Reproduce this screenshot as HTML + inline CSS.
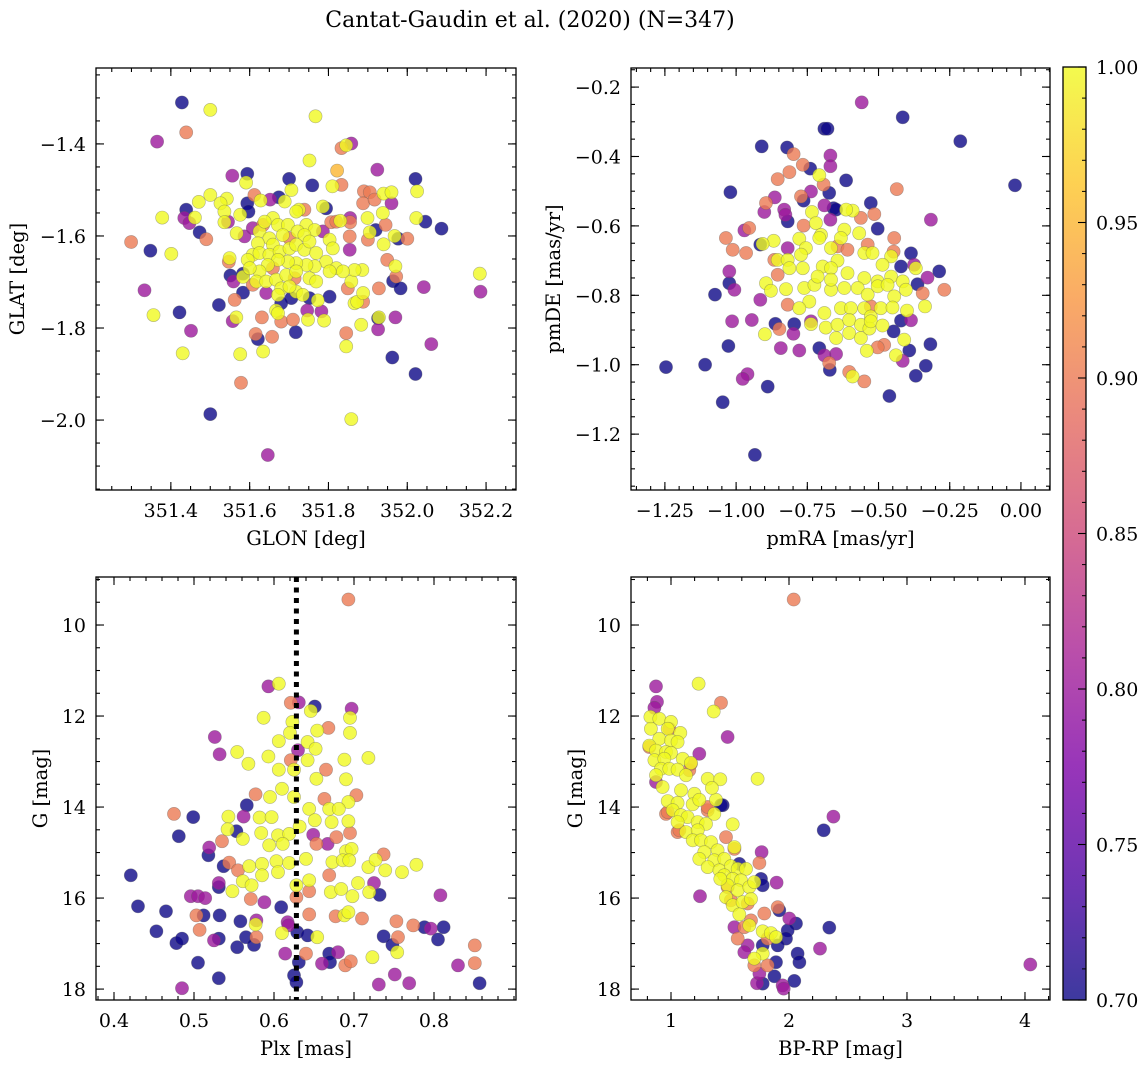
<!DOCTYPE html>
<html><head><meta charset="utf-8">
<style>
html,body{margin:0;padding:0;background:#fff;}
svg{display:block;font-family:"DejaVu Serif","Liberation Serif",serif;}
</style></head>
<body>
<svg id="fig" width="1148" height="1067" viewBox="0 0 1148 1067" xmlns="http://www.w3.org/2000/svg">
<defs>
<linearGradient id="cbgrad" x1="0" y1="1" x2="0" y2="0">
<stop offset="0" stop-color="#0d0887"/><stop offset="0.125" stop-color="#4c02a1"/><stop offset="0.25" stop-color="#7e03a8"/><stop offset="0.375" stop-color="#a92395"/><stop offset="0.5" stop-color="#cc4778"/><stop offset="0.625" stop-color="#e56b5d"/><stop offset="0.75" stop-color="#f89540"/><stop offset="0.875" stop-color="#fdc527"/><stop offset="1" stop-color="#f0f921"/>
</linearGradient>
</defs>
<text x="530" y="27" text-anchor="middle" font-size="22">Cantat-Gaudin et al. (2020) (N=347)</text>
</svg>
<script>
// ---------- data (probability-coloured members) ----------
const glonGlat = [
[351.428,-1.310,.7],[351.500,-1.326,1],[351.767,-1.340,1],[351.439,-1.375,.9],[351.365,-1.395,.8],[351.833,-1.409,.9],[351.845,-1.403,1],[351.858,-1.399,.8],[351.752,-1.436,1],[351.822,-1.458,.95],[351.924,-1.456,.8],[351.556,-1.469,.8],[351.594,-1.465,.7],[351.591,-1.484,1],[351.700,-1.476,.7],[351.759,-1.490,.7],[351.706,-1.500,1],[351.810,-1.492,1],[351.833,-1.489,.9],[352.021,-1.476,.7],[352.025,-1.503,1],[351.940,-1.508,1],[351.960,-1.505,1],[351.890,-1.503,.9],[351.905,-1.505,.9],[351.888,-1.529,.9],[351.917,-1.521,.9],[351.960,-1.529,.8],[351.500,-1.511,1],[351.471,-1.526,1],[351.542,-1.519,1],[351.526,-1.529,1],[351.536,-1.547,1],[351.612,-1.511,.9],[351.628,-1.523,1],[351.652,-1.521,.8],[351.674,-1.516,.7],[351.689,-1.525,1],[351.594,-1.529,.7],[351.597,-1.547,.7],[351.439,-1.543,.7],[351.378,-1.560,1],[351.461,-1.560,1],[351.434,-1.561,.8],[351.447,-1.572,.8],[351.536,-1.570,1],[351.545,-1.569,.8],[351.576,-1.554,1],[351.725,-1.543,1],[351.739,-1.543,.9],[351.786,-1.536,1],[351.794,-1.540,.7],[351.830,-1.567,1],[351.855,-1.561,.8],[351.855,-1.570,.9],[351.807,-1.570,.9],[351.899,-1.561,1],[351.938,-1.550,1],[351.945,-1.576,.9],[352.023,-1.561,1],[352.046,-1.569,.7],[352.087,-1.584,.7],[351.473,-1.592,.7],[351.490,-1.607,.9],[351.299,-1.613,.9],[351.348,-1.632,.7],[351.401,-1.639,1],[351.567,-1.594,1],[351.587,-1.601,.8],[351.854,-1.601,.9],[351.854,-1.630,.8],[351.900,-1.608,.9],[351.905,-1.592,1],[351.920,-1.587,.7],[351.940,-1.618,1],[351.968,-1.600,1],[351.977,-1.606,.7],[352.000,-1.606,.9],[351.549,-1.648,1],[351.547,-1.656,.9],[351.551,-1.686,.7],[351.583,-1.682,.7],[351.583,-1.689,1],[351.559,-1.699,.8],[351.949,-1.652,.9],[351.970,-1.666,1],[351.964,-1.698,.7],[351.972,-1.688,.9],[351.983,-1.714,.7],[352.042,-1.711,.8],[352.184,-1.682,1],[352.186,-1.721,.8],[351.333,-1.718,.8],[351.422,-1.766,.7],[351.356,-1.772,1],[351.522,-1.750,.7],[351.451,-1.806,.8],[351.430,-1.855,1],[351.562,-1.739,.9],[351.566,-1.777,1],[351.557,-1.785,.8],[351.583,-1.723,.7],[351.803,-1.732,.7],[351.773,-1.740,1],[351.746,-1.762,.8],[351.748,-1.782,1],[351.782,-1.764,.8],[351.789,-1.784,1],[351.866,-1.746,1],[351.873,-1.743,1],[351.888,-1.724,1],[351.888,-1.743,.9],[351.883,-1.793,1],[351.928,-1.714,.9],[351.849,-1.714,.9],[351.858,-1.699,1],[351.886,-1.674,1],[351.866,-1.674,1],[351.926,-1.779,.7],[351.928,-1.777,1],[351.926,-1.803,.8],[351.970,-1.777,.8],[351.631,-1.777,.9],[351.680,-1.786,.9],[351.710,-1.782,.9],[351.667,-1.762,1],[351.672,-1.768,1],[351.615,-1.813,.9],[351.621,-1.824,.7],[351.657,-1.819,.9],[351.717,-1.809,.7],[351.634,-1.851,1],[351.576,-1.857,1],[351.845,-1.811,.9],[351.845,-1.840,1],[351.962,-1.864,.7],[352.061,-1.835,.8],[352.021,-1.900,.7],[351.578,-1.919,.9],[351.500,-1.987,.7],[351.858,-1.998,1],[351.646,-2.076,.8],
[351.634,-1.576,.9],[351.608,-1.583,.8],[351.701,-1.605,.9],[351.714,-1.692,.9],[351.608,-1.706,.9],[351.642,-1.724,.8],[351.706,-1.735,.7],[351.680,-1.746,.7],[351.752,-1.735,.7],[351.659,-1.670,.9],[351.786,-1.590,.8],[351.820,-1.569,.9],
[351.659,-1.561,1],[351.672,-1.576,1],[351.697,-1.576,1],[351.718,-1.547,1],[351.744,-1.576,1],[351.765,-1.587,1],[351.722,-1.590,1],[351.739,-1.598,1],[351.625,-1.590,1],[351.650,-1.605,1],[351.659,-1.619,1],[351.621,-1.616,1],[351.608,-1.641,1],[351.595,-1.652,1],[351.625,-1.637,1],[351.650,-1.641,1],[351.676,-1.634,1],[351.701,-1.627,1],[351.718,-1.619,1],[351.739,-1.630,1],[351.769,-1.637,1],[351.803,-1.608,1],[351.811,-1.627,1],[351.794,-1.656,1],[351.820,-1.670,1],[351.837,-1.677,1],[351.765,-1.666,1],[351.744,-1.663,1],[351.718,-1.659,1],[351.697,-1.656,1],[351.672,-1.652,1],[351.646,-1.663,1],[351.625,-1.677,1],[351.617,-1.699,1],[351.642,-1.699,1],[351.667,-1.695,1],[351.693,-1.685,1],[351.718,-1.677,1],[351.752,-1.692,1],[351.769,-1.699,1],[351.680,-1.714,1],[351.672,-1.728,1],[351.718,-1.721,1],[351.735,-1.728,1],[351.701,-1.710,1],[351.803,-1.677,1],[351.638,-1.569,1],[351.684,-1.598,1],[351.752,-1.612,1],[351.600,-1.670,1]
];
const pmraPmde = [
[-0.559,-0.244,.8],[-0.415,-0.287,.7],[-0.690,-0.320,.7],[-0.679,-0.320,.7],[-0.213,-0.356,.7],[-0.910,-0.371,.7],[-0.821,-0.374,.7],[-0.798,-0.393,.9],[-0.669,-0.397,.8],[-0.669,-0.428,.8],[-0.766,-0.424,.9],[-0.740,-0.435,.7],[-0.813,-0.445,.9],[-0.854,-0.465,.9],[-0.708,-0.454,1],[-0.693,-0.481,.9],[-0.614,-0.469,.7],[-0.673,-0.505,.7],[-0.021,-0.483,.7],[-1.020,-0.503,.7],[-0.436,-0.494,.9],[-0.864,-0.518,.8],[-0.737,-0.501,.8],[-0.772,-0.515,.9],[-0.763,-0.527,.7],[-0.895,-0.534,.9],[-0.901,-0.560,.8],[-0.831,-0.553,.8],[-0.827,-0.568,.8],[-0.819,-0.587,.7],[-0.690,-0.541,.8],[-0.658,-0.549,.7],[-0.669,-0.582,.8],[-0.649,-0.553,.7],[-0.527,-0.534,.7],[-0.515,-0.566,.9],[-0.591,-0.556,1],[-0.562,-0.577,.9],[-0.503,-0.608,.7],[-0.316,-0.582,.8],[-0.763,-0.599,.9],[-0.954,-0.606,.9],[-0.971,-0.613,.8],[-1.036,-0.635,.9],[-1.012,-0.669,.9],[-0.965,-0.678,.9],[-0.915,-0.654,.7],[-0.866,-0.698,.9],[-0.819,-0.664,.8],[-0.445,-0.635,.9],[-0.386,-0.679,.7],[-0.447,-0.674,.9],[-0.421,-0.717,.7],[-0.375,-0.712,.8],[-0.287,-0.731,.7],[-0.328,-0.749,.8],[-0.269,-0.784,.9],[-0.345,-0.794,.9],[-0.363,-0.768,.7],[-1.024,-0.731,.8],[-1.024,-0.765,.7],[-1.006,-0.784,.8],[-1.074,-0.798,.7],[-0.915,-0.813,.8],[-0.854,-0.741,.9],[-0.819,-0.827,.9],[-1.014,-0.875,.8],[-0.945,-0.871,.8],[-0.862,-0.882,.7],[-0.796,-0.883,.7],[-0.848,-0.897,.9],[-0.799,-0.911,.8],[-1.027,-0.946,.7],[-0.843,-0.952,.8],[-0.778,-0.959,.8],[-0.708,-0.952,.7],[-0.649,-0.969,.8],[-0.690,-0.973,.8],[-0.671,-1.015,.7],[-0.673,-0.995,.9],[-0.603,-1.021,.9],[-0.550,-1.048,.9],[-0.480,-0.943,.9],[-0.503,-0.950,.9],[-0.415,-0.989,.8],[-0.392,-0.959,.7],[-0.318,-0.941,.7],[-0.334,-1.003,.7],[-0.369,-1.032,.7],[-0.462,-1.090,.7],[-1.246,-1.007,.7],[-1.109,-1.000,.7],[-1.047,-1.108,.7],[-0.960,-1.027,.8],[-0.977,-1.041,.8],[-0.889,-1.063,.7],[-0.934,-1.260,.7],[-0.421,-0.873,.7],[-0.386,-0.872,.8],[-0.447,-0.904,.7],[-0.737,-0.875,.8],[-0.527,-0.832,.9],[-0.644,-0.659,.9],[-0.609,-0.669,.9],[-0.538,-0.654,.9],
[-0.734,-0.560,1],[-0.720,-0.592,1],[-0.614,-0.553,1],[-0.702,-0.626,1],[-0.708,-0.635,1],[-0.620,-0.611,1],[-0.568,-0.621,1],[-0.778,-0.637,1],[-0.868,-0.643,1],[-0.907,-0.652,1],[-0.755,-0.664,1],[-0.632,-0.635,1],[-0.667,-0.664,1],[-0.772,-0.683,1],[-0.854,-0.698,1],[-0.819,-0.698,1],[-0.644,-0.700,1],[-0.550,-0.678,1],[-0.521,-0.678,1],[-0.456,-0.688,1],[-0.486,-0.712,1],[-0.369,-0.722,1],[-0.813,-0.722,1],[-0.766,-0.722,1],[-0.696,-0.717,1],[-0.667,-0.722,1],[-0.609,-0.736,1],[-0.550,-0.750,1],[-0.503,-0.760,1],[-0.456,-0.746,1],[-0.415,-0.760,1],[-0.404,-0.784,1],[-0.895,-0.765,1],[-0.878,-0.787,1],[-0.825,-0.782,1],[-0.761,-0.779,1],[-0.725,-0.770,1],[-0.667,-0.784,1],[-0.620,-0.779,1],[-0.573,-0.779,1],[-0.538,-0.798,1],[-0.503,-0.774,1],[-0.468,-0.770,1],[-0.445,-0.803,1],[-0.743,-0.818,1],[-0.778,-0.837,1],[-0.690,-0.851,1],[-0.632,-0.837,1],[-0.597,-0.837,1],[-0.550,-0.837,1],[-0.527,-0.861,1],[-0.492,-0.837,1],[-0.451,-0.835,1],[-0.400,-0.844,1],[-0.337,-0.832,1],[-0.737,-0.883,1],[-0.685,-0.893,1],[-0.644,-0.885,1],[-0.603,-0.871,1],[-0.562,-0.885,1],[-0.603,-0.909,1],[-0.649,-0.923,1],[-0.562,-0.923,1],[-0.532,-0.896,1],[-0.527,-0.875,1],[-0.486,-0.887,1],[-0.541,-0.960,1],[-0.439,-0.973,1],[-0.410,-0.928,1],[-0.899,-0.912,1],[-0.591,-1.034,1],[-0.667,-0.755,1],[-0.714,-0.746,1]
];
const plxG = [
[0.693,9.44,.9],[0.593,11.35,.8],[0.606,11.29,1],[0.621,11.71,.9],[0.631,11.70,.8],[0.651,11.79,.7],[0.646,11.89,1],[0.697,11.84,.8],[0.695,12.04,1],[0.587,12.04,1],[0.623,12.13,1],[0.620,12.37,1],[0.654,12.32,1],[0.668,12.26,.9],[0.695,12.37,1],[0.526,12.46,.8],[0.606,12.55,1],[0.642,12.57,1],[0.630,12.75,.8],[0.652,12.72,1],[0.532,12.84,.8],[0.554,12.79,1],[0.593,12.89,1],[0.568,13.05,1],[0.621,12.97,.9],[0.642,12.97,1],[0.688,12.96,1],[0.718,12.92,1],[0.606,13.18,1],[0.625,13.18,1],[0.665,13.18,.9],[0.653,13.38,1],[0.690,13.39,1],[0.577,13.72,.9],[0.610,13.60,1],[0.595,13.78,1],[0.625,13.78,1],[0.663,13.82,.9],[0.693,13.89,1],[0.703,13.74,.9],[0.566,13.96,.7],[0.475,14.15,.9],[0.499,14.22,.7],[0.562,14.21,.8],[0.543,14.21,1],[0.582,14.23,1],[0.597,14.22,1],[0.644,14.04,1],[0.669,14.04,1],[0.681,14.04,1],[0.651,14.29,1],[0.672,14.33,1],[0.693,14.31,1],[0.481,14.64,.7],[0.542,14.49,1],[0.553,14.53,.7],[0.561,14.70,1],[0.584,14.57,1],[0.605,14.62,1],[0.619,14.59,1],[0.632,14.43,1],[0.649,14.61,.8],[0.678,14.66,.9],[0.695,14.57,.9],[0.535,14.75,.9],[0.519,14.89,.8],[0.518,15.06,.7],[0.594,14.84,1],[0.611,14.81,1],[0.653,14.81,.9],[0.667,14.81,.8],[0.690,14.97,1],[0.697,14.92,1],[0.737,15.04,.9],[0.544,15.22,.9],[0.537,15.30,.7],[0.555,15.39,.9],[0.569,15.30,1],[0.585,15.25,1],[0.603,15.19,1],[0.619,15.23,1],[0.640,15.14,1],[0.673,15.21,1],[0.686,15.17,1],[0.694,15.17,1],[0.718,15.32,1],[0.727,15.16,1],[0.739,15.39,1],[0.760,15.43,1],[0.778,15.27,1],[0.421,15.50,.7],[0.561,15.63,1],[0.572,15.72,1],[0.585,15.50,1],[0.605,15.43,1],[0.628,15.72,1],[0.644,15.61,1],[0.669,15.50,.9],[0.705,15.67,1],[0.725,15.67,.8],[0.531,15.67,.8],[0.531,15.76,.7],[0.548,15.85,1],[0.571,16.02,.9],[0.588,16.09,.8],[0.609,16.20,.7],[0.628,15.98,.9],[0.644,15.85,.9],[0.671,15.87,1],[0.684,15.80,1],[0.698,15.96,1],[0.719,15.87,1],[0.732,15.93,.7],[0.808,15.94,.8],[0.496,15.96,.8],[0.505,15.96,.8],[0.514,16.00,.8],[0.430,16.18,.7],[0.465,16.29,.7],[0.503,16.38,.9],[0.512,16.38,.7],[0.532,16.38,.7],[0.558,16.51,.7],[0.578,16.49,.8],[0.577,16.58,1],[0.617,16.53,.8],[0.644,16.36,.9],[0.677,16.40,.9],[0.688,16.38,1],[0.693,16.31,1],[0.710,16.45,.9],[0.753,16.51,.9],[0.774,16.60,.9],[0.788,16.64,.7],[0.796,16.67,.8],[0.812,16.64,.7],[0.453,16.73,.7],[0.478,16.99,.7],[0.485,16.89,.7],[0.507,16.70,.9],[0.525,16.93,.8],[0.531,16.89,.7],[0.554,17.08,.7],[0.565,16.86,.7],[0.575,17.03,.7],[0.578,16.86,.9],[0.610,16.77,1],[0.618,16.60,.8],[0.629,16.75,.7],[0.642,16.82,.7],[0.654,16.86,1],[0.737,16.84,.7],[0.748,17.03,.7],[0.755,16.86,.9],[0.754,17.19,1],[0.805,16.91,.7],[0.851,17.04,.9],[0.614,17.22,.8],[0.640,17.22,.9],[0.669,17.22,.7],[0.670,17.41,.7],[0.680,17.19,.8],[0.660,17.44,.8],[0.689,17.48,.9],[0.696,17.39,.9],[0.723,17.30,1],[0.830,17.48,.8],[0.851,17.43,.9],[0.505,17.42,.7],[0.531,17.76,.7],[0.485,17.98,.8],[0.625,17.70,.7],[0.628,17.85,.7],[0.631,17.41,.7],[0.731,17.90,.8],[0.751,17.68,.8],[0.769,17.87,.8],[0.857,17.87,.7]
];
const bprpG = [
[2.040,9.44,.9],[1.234,11.29,1],[0.873,11.35,.8],[0.881,11.69,.8],[0.859,11.82,.8],[1.424,11.71,.9],[1.362,11.90,1],[1.480,12.46,.8],[2.376,14.21,.8],[2.294,14.51,.7],[1.240,12.83,.8],[1.734,13.38,1],[1.768,14.99,.8],[1.895,15.66,.8],[1.246,15.96,.8],[2.342,16.65,.7],[2.263,17.11,.8],[4.045,17.46,.8],[1.438,13.96,.7],[1.523,14.38,1],[1.381,13.84,1],
[0.816,12.68,.9],[0.986,12.28,.9],[0.958,14.15,.9],[1.056,14.55,.9],[1.155,13.19,.9],[1.169,13.05,.9],[1.424,13.96,.7],[1.311,14.07,.9],[1.466,14.66,.9],[1.537,14.92,.9],[1.749,15.23,.9],[1.579,15.25,.7],[1.763,15.58,.7],[1.777,15.72,.7],[1.480,15.76,.9],[1.508,16.05,.9],[1.650,16.12,.9],[1.904,16.20,.9],[1.918,16.27,.7],[2.003,16.45,.8],[2.059,16.56,.7],[1.791,16.34,.9],[1.678,16.49,.9],[1.537,16.64,.8],[1.621,16.64,.9],[1.565,16.89,.9],[1.650,17.04,.8],[1.621,17.19,.8],[1.819,16.89,.9],[1.989,16.71,.7],[1.975,16.89,.7],[1.904,17.04,.7],[1.777,17.04,.7],[1.890,17.41,.7],[2.073,17.22,.7],[2.088,17.41,.7],[2.045,17.82,.7],[1.876,17.72,.7],[1.777,17.88,.7],[1.729,17.87,.8],[1.749,17.66,.8],[1.819,17.48,.9],[1.706,17.48,.9],[1.946,17.92,.8],[1.955,17.99,.8],[0.873,13.45,.8],[0.972,14.11,.9],[1.071,14.51,.9],[1.311,14.00,.9],
[0.825,12.02,1],[0.901,12.06,1],[1.000,12.13,1],[0.830,12.28,1],[0.972,12.28,1],[1.079,12.37,1],[0.901,12.50,1],[1.000,12.54,1],[1.056,12.57,1],[0.816,12.65,1],[0.873,12.76,1],[0.958,12.79,1],[1.000,12.81,1],[0.859,12.97,1],[0.943,12.94,1],[1.099,12.94,1],[1.169,13.03,1],[0.915,13.16,1],[0.986,13.16,1],[1.056,13.18,1],[0.873,13.30,1],[1.127,13.30,1],[1.311,13.38,1],[1.418,13.39,1],[0.929,13.56,1],[1.085,13.63,1],[1.198,13.71,1],[1.347,13.58,1],[0.972,13.87,1],[1.056,13.91,1],[1.184,13.94,1],[1.240,13.84,1],[1.367,14.15,1],[1.014,14.07,1],[1.085,14.18,1],[1.141,14.22,1],[1.056,14.33,1],[1.226,14.33,1],[1.297,14.37,1],[1.127,14.55,1],[1.226,14.51,1],[1.184,14.73,1],[1.254,14.73,1],[1.339,14.77,1],[1.395,14.95,1],[1.282,14.99,1],[1.240,15.14,1],[1.367,15.17,1],[1.452,15.14,1],[1.311,15.32,1],[1.410,15.39,1],[1.508,15.30,1],[1.565,15.36,1],[1.636,15.36,1],[1.452,15.50,1],[1.523,15.58,1],[1.593,15.61,1],[1.480,15.72,1],[1.565,15.83,1],[1.664,15.76,1],[1.466,15.98,1],[1.523,16.16,1],[1.607,16.09,1],[1.678,16.02,1],[1.579,16.36,1],[1.664,16.60,1],[1.777,16.73,1],[1.847,16.77,1],[1.890,16.86,1],[1.777,17.22,1],[1.706,17.33,1],[1.706,15.65,1],[1.537,14.88,1],[1.418,15.58,1]
];
const meanPlx = [0.628];
const cbTicks = [0.70,0.75,0.80,0.85,0.90,0.95,1.00];
const p1xTicks=[351.4,351.6,351.8,352.0,352.2], p1yTicks=[-1.4,-1.6,-1.8,-2.0];
const p2xTicks=[-1.25,-1.00,-0.75,-0.50,-0.25,0.00], p2yTicks=[-0.2,-0.4,-0.6,-0.8,-1.0,-1.2];
const p3xTicks=[0.4,0.5,0.6,0.7,0.8], gTicks=[10,12,14,16,18];
const p4xTicks=[1,2,3,4];

// ---------- rendering ----------
const NS="http://www.w3.org/2000/svg";
const svg=document.getElementById('fig');
function mk(tag,attrs,parent){const e=document.createElementNS(NS,tag);for(const k in attrs)e.setAttribute(k,attrs[k]);(parent||svg).appendChild(e);return e;}
const stops=[[0,[13,8,135]],[0.125,[76,2,161]],[0.25,[126,3,168]],[0.375,[169,35,149]],[0.5,[204,71,120]],[0.625,[229,107,93]],[0.75,[248,149,64]],[0.875,[253,197,39]],[1,[240,249,33]]];
function cmap(p){let t=(p-0.7)/0.3;t=Math.max(0,Math.min(1,t));for(let i=1;i<stops.length;i++){if(t<=stops[i][0]){const a=stops[i-1],b=stops[i];const f=(t-a[0])/(b[0]-a[0]);const c=a[1].map((v,j)=>Math.round(v+(b[1][j]-v)*f));return `rgb(${c[0]},${c[1]},${c[2]})`;}}return 'rgb(240,249,33)';}
function fmt(v,d){return (v<0?'\u2212':'')+Math.abs(v).toFixed(d);}

function panel(cfg){
  const g=mk('g',{});
  
  
  const {L,T,R,B}=cfg;
  const sx=v=>L+(v-cfg.x0)/(cfg.x1-cfg.x0)*(R-L);
  const sy=v=>cfg.inv? T+(v-cfg.y0)/(cfg.y1-cfg.y0)*(B-T) : B-(v-cfg.y0)/(cfg.y1-cfg.y0)*(B-T);
  const clip='clip-'+cfg.name;
  const cp=mk('clipPath',{id:clip},g);mk('rect',{x:L,y:T,width:R-L,height:B-T},cp);
  const pts=mk('g',{'clip-path':`url(#${clip})`},g);
  
  
  const sorted=cfg.data.slice().sort((a,b)=>a[2]-b[2]);
  sorted.forEach(d=>{
    const c=mk('circle',{cx:sx(d[0]).toFixed(1),cy:sy(d[1]).toFixed(1),r:6.6,fill:cmap(d[2]),'fill-opacity':0.8,stroke:'rgba(90,90,90,0.45)','stroke-width':0.6},pts);
    
    
  });
  if(cfg.vline){cfg.vline.forEach(v=>{const l=mk('line',{x1:sx(v),x2:sx(v),y1:T,y2:B,stroke:'#000','stroke-width':5,'stroke-dasharray':'5 5.5'},pts);
    
    });}
  const tk=mk('g',{stroke:'#000','stroke-width':1.1},g);
  
  
  const xa=Math.min(cfg.x0,cfg.x1),xb=Math.max(cfg.x0,cfg.x1);
  for(let v=Math.ceil(xa/cfg.xm-1e-6)*cfg.xm;v<=xb+1e-9;v+=cfg.xm){const x=sx(v);mk('line',{x1:x,x2:x,y1:B,y2:B-4},tk);mk('line',{x1:x,x2:x,y1:T,y2:T+4},tk);}
  const ya=Math.min(cfg.y0,cfg.y1),yb=Math.max(cfg.y0,cfg.y1);
  for(let v=Math.ceil(ya/cfg.ym-1e-6)*cfg.ym;v<=yb+1e-9;v+=cfg.ym){const y=sy(v);mk('line',{x1:L,x2:L+4,y1:y,y2:y},tk);mk('line',{x1:R,x2:R-4,y1:y,y2:y},tk);}
  cfg.xt.forEach(v=>{const x=sx(v);mk('line',{x1:x,x2:x,y1:B,y2:B-8},tk);mk('line',{x1:x,x2:x,y1:T,y2:T+8},tk);
    const t=mk('text',{x:x,y:B+27,'text-anchor':'middle','font-size':19},g);t.textContent=fmt(v,cfg.xd);
    
    });
  cfg.yt.forEach(v=>{const y=sy(v);mk('line',{x1:L,x2:L+8,y1:y,y2:y},tk);mk('line',{x1:R,x2:R-8,y1:y,y2:y},tk);
    const t=mk('text',{x:L-10,y:y+7,'text-anchor':'end','font-size':19},g);t.textContent=fmt(v,cfg.yd);
    
    });
  const fr=mk('rect',{x:L,y:T,width:R-L,height:B-T,fill:'none',stroke:'#000','stroke-width':1.3},g);
  
  
  const xl=mk('text',{x:(L+R)/2,y:B+55,'text-anchor':'middle','font-size':19.5},g);xl.textContent=cfg.xlabel;
  
  
  const yx=cfg.ylx, yy=(T+B)/2;
  const yl=mk('text',{x:yx,y:yy,'text-anchor':'middle','font-size':19.5,transform:`rotate(-90 ${yx} ${yy})`},g);yl.textContent=cfg.ylabel;
  
  
}

panel({name:'glon-glat-panel',L:96,T:68,R:516,B:490,x0:351.210,x1:352.276,y0:-2.152,y1:-1.235,xm:0.05,ym:0.05,xt:p1xTicks,yt:p1yTicks,xd:1,yd:1,data:glonGlat,xlabel:'GLON [deg]',ylabel:'GLAT [deg]',ylx:24});
panel({name:'pm-panel',L:631,T:68,R:1050,B:490,x0:-1.369,x1:0.102,y0:-1.361,y1:-0.145,xm:0.05,ym:0.05,xt:p2xTicks,yt:p2yTicks,xd:2,yd:1,data:pmraPmde,xlabel:'pmRA [mas/yr]',ylabel:'pmDE [mas/yr]',ylx:560});
panel({name:'plx-g-panel',L:96,T:577,R:516,B:1000,x0:0.3775,x1:0.9025,y0:8.945,y1:18.24,inv:true,xm:0.02,ym:0.5,xt:p3xTicks,yt:gTicks,xd:1,yd:0,data:plxG,vline:meanPlx,xlabel:'Plx [mas]',ylabel:'G [mag]',ylx:47});
panel({name:'cmd-panel',L:631,T:577,R:1050,B:1000,x0:0.661,x1:4.212,y0:8.945,y1:18.24,inv:true,xm:0.2,ym:0.5,xt:p4xTicks,yt:gTicks,xd:0,yd:0,data:bprpG,xlabel:'BP-RP [mag]',ylabel:'G [mag]',ylx:582});

// colorbar
(function(){
  const g=mk('g',{});
  
  
  const L=1063,R=1086,T=67,B=1000;
  const sy=v=>B-(v-0.7)/0.3*(B-T);
  mk('rect',{x:L,y:T,width:R-L,height:B-T,fill:'url(#cbgrad)','fill-opacity':0.8},g);
  for(let i=70;i<=100;i++){const y=sy(i/100);mk('line',{x1:R,x2:R-4,y1:y,y2:y,stroke:'#000','stroke-width':1},g);}
  cbTicks.forEach(v=>{const y=sy(v);mk('line',{x1:R,x2:R-8,y1:y,y2:y,stroke:'#000','stroke-width':1.1},g);
    const t=mk('text',{x:R+10,y:y+7,'font-size':19},g);t.textContent=v.toFixed(2);
    
    });
  mk('rect',{x:L,y:T,width:R-L,height:B-T,fill:'none',stroke:'#000','stroke-width':1.3},g);
})();
</script>
</body></html>
